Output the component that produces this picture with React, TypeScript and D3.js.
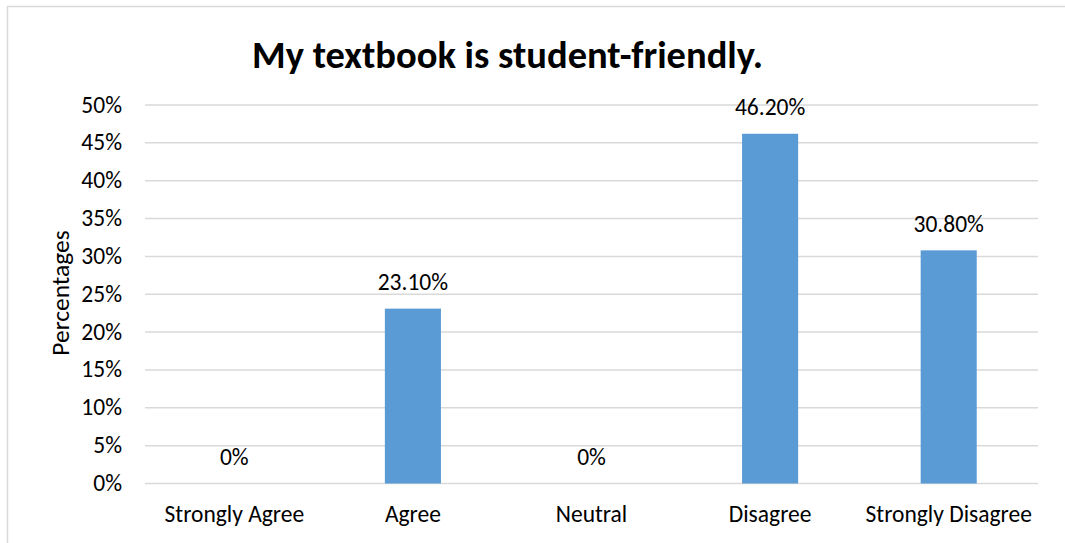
import React from "react";
import * as d3 from "d3";

const categories = ["Strongly Agree", "Agree", "Neutral", "Disagree", "Strongly Disagree"];
const values = [0, 23.1, 0, 46.2, 30.8];
const valueLabels = ["0%", "23.10%", "0%", "46.20%", "30.80%"];
const yTicks = [0, 5, 10, 15, 20, 25, 30, 35, 40, 45, 50];

const W = 1065;
const H = 543;
const FONT = "Carlito, Calibri, 'Open Sans', 'Liberation Sans', sans-serif";

export default function App() {
  const x = d3.scaleBand<string>().domain(categories).range([145, 1038]).paddingInner(0.686).paddingOuter(0.343);
  const y = d3.scaleLinear().domain([0, 50]).range([483.5, 105]);

  return (
    <svg width={W} height={H} style={{ position: "absolute", left: 0, top: 0, background: "#fff" }}>
      <rect x={7.5} y={6.5} width={W + 10} height={H + 10} fill="#fff" stroke="#d9d9d9" strokeWidth={1.5} />
      <text x={507.5} y={67.5} textAnchor="middle" fontFamily={FONT} fontWeight="bold" fontSize={38.5} fill="#000">
        My textbook is student-friendly.
      </text>
      {yTicks.map((t) => (
        <g key={t}>
          <line x1={145} x2={1038} y1={y(t)} y2={y(t)} stroke="#d9d9d9" strokeWidth={1.5} />
          <text x={122} y={y(t) + 7.5} textAnchor="end" fontFamily={FONT} fontSize={23.5} fill="#000">
            {t}%
          </text>
        </g>
      ))}
      <text
        transform={`translate(68.5,293) rotate(-90)`}
        textAnchor="middle"
        fontFamily={FONT}
        fontSize={25.5}
        fill="#000"
      >
        Percentages
      </text>
      {categories.map((c, i) => {
        const cx = (x(c) as number) + x.bandwidth() / 2;
        return (
          <g key={c}>
            {values[i] > 0 && (
              <rect x={x(c)} y={y(values[i])} width={x.bandwidth()} height={y(0) - y(values[i])} fill="#5b9bd5" />
            )}
            <text x={cx} y={y(values[i]) - 18.5} textAnchor="middle" fontFamily={FONT} fontSize={23.5} fill="#000">
              {valueLabels[i]}
            </text>
            <text x={cx} y={522} textAnchor="middle" fontFamily={FONT} fontSize={23.5} fill="#000">
              {c}
            </text>
          </g>
        );
      })}
    </svg>
  );
}
